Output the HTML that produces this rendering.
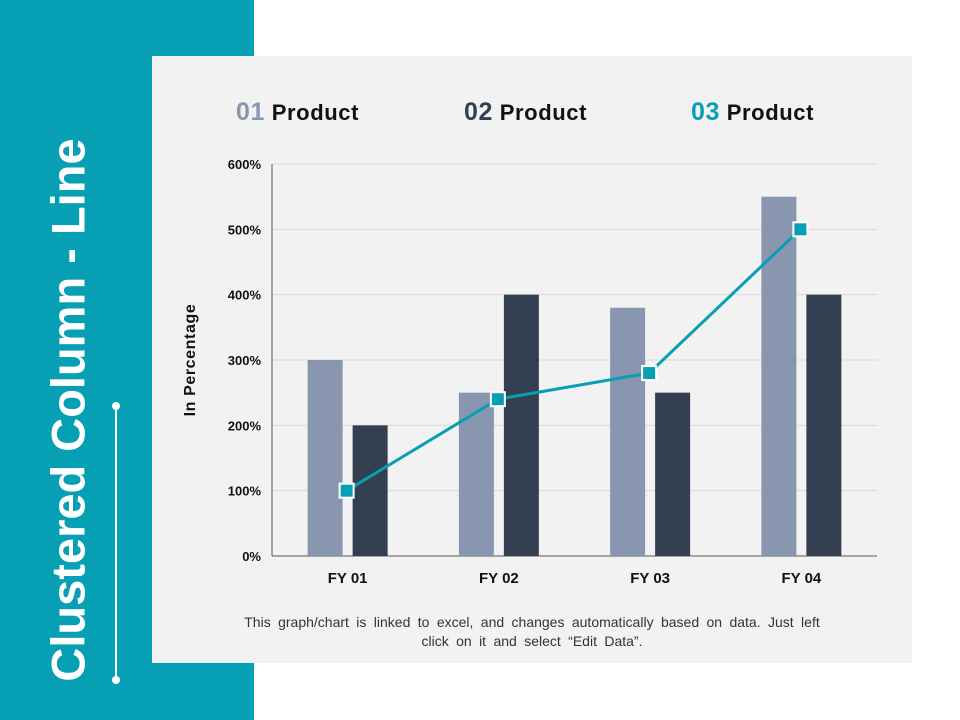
<!DOCTYPE html>
<html><head><meta charset="utf-8">
<style>
body{margin:0;width:960px;height:720px;background:#fff;position:relative;overflow:hidden;font-family:"Liberation Sans",Arial,sans-serif}
#side{position:absolute;left:0;top:0;width:254px;height:720px;background:#079fb3}
#panel{position:absolute;left:152px;top:56px;width:760px;height:607px;background:#f2f2f2}
#title{position:absolute;left:68px;top:410px;transform:translate(-50%,-50%) rotate(-90deg);white-space:nowrap;color:#fff;font-weight:bold;font-size:47px}
.vline{position:absolute;left:115px;top:406px;width:2px;height:274px;background:#fff}
.dot{position:absolute;width:8px;height:8px;border-radius:50%;background:#fff;left:112px}
.leg{position:absolute;top:98px;font-size:22px;font-weight:bold;color:#111;letter-spacing:0.6px}
.leg span{font-size:25px}
#note{position:absolute;left:200px;top:613px;width:664px;text-align:center;font-size:14px;color:#333;line-height:19px;word-spacing:3.5px}
svg{position:absolute;left:0;top:0}
</style></head><body>
<div id="side"></div>
<div id="panel"></div>
<div id="title">Clustered Column - Line</div>
<div class="vline"></div>
<div class="dot" style="top:402px"></div>
<div class="dot" style="top:676px"></div>
<div class="leg" style="left:236px"><span style="color:#8896b0">01</span> Product</div>
<div class="leg" style="left:464px"><span style="color:#333f50">02</span> Product</div>
<div class="leg" style="left:691px"><span style="color:#079fb3">03</span> Product</div>
<div id="note">This graph/chart is linked to excel, and changes automatically based on data. Just left<br>click on it and select “Edit Data”.</div>
<svg id="chart" width="960" height="720"></svg>
<script>
const categories=["FY 01","FY 02","FY 03","FY 04"];
const product1=[300,250,380,550];
const product2=[200,400,250,400];
const product3=[100,240,280,500];
const yTicks=[0,100,200,300,400,500,600];
const NS="http://www.w3.org/2000/svg";
const svg=document.getElementById('chart');
const x0=272,x1=877,y0=556,y1=164,yMax=600;
const band=(x1-x0)/categories.length;
function yS(v){return y0-(v/yMax)*(y0-y1);}
function xC(i){return x0+band*(i+0.5);}
function mk(t,a){const e=document.createElementNS(NS,t);for(const k in a)e.setAttribute(k,a[k]);svg.appendChild(e);return e;}
yTicks.forEach(t=>{
  const g=mk('line',{x1:x0,x2:x1,y1:yS(t),y2:yS(t),stroke:t===0?'#555':'#d9d9d9','stroke-width':1});
  
  
  const l=mk('text',{x:261,y:yS(t)+5,'text-anchor':'end','font-size':13,'font-weight':'bold',fill:'#111','font-family':'Liberation Sans, sans-serif'});
  l.textContent=t+'%';
  
  
});
const ax=mk('line',{x1:x0,x2:x0,y1:y1,y2:y0,stroke:'#555'});


const yt=mk('text',{x:195,y:360,'text-anchor':'middle','font-size':16,'font-weight':'bold',fill:'#111',transform:'rotate(-90 195 360)','font-family':'Liberation Sans, sans-serif','letter-spacing':'0.6'});
yt.textContent='In Percentage';


categories.forEach((c,i)=>{
  const cx=xC(i);
  const b1=mk('rect',{x:cx-40,y:yS(product1[i]),width:35,height:y0-yS(product1[i]),fill:'#8896b0'});
  
  
  const b2=mk('rect',{x:cx+5,y:yS(product2[i]),width:35,height:y0-yS(product2[i]),fill:'#333f50'});
  
  
  const t=mk('text',{x:cx,y:583,'text-anchor':'middle','font-size':15,'font-weight':'bold',fill:'#111','font-family':'Liberation Sans, sans-serif'});
  t.textContent=c;
  
  
});
const pl=mk('polyline',{points:product3.map((v,i)=>(xC(i)-1)+','+yS(v)).join(' '),fill:'none',stroke:'#079fb3','stroke-width':3});


product3.forEach((v,i)=>{
  const m=mk('rect',{x:xC(i)-8,y:yS(v)-7,width:14,height:14,fill:'#079fb3',stroke:'#fff','stroke-width':2});
  
  
});
</script>
</body></html>
